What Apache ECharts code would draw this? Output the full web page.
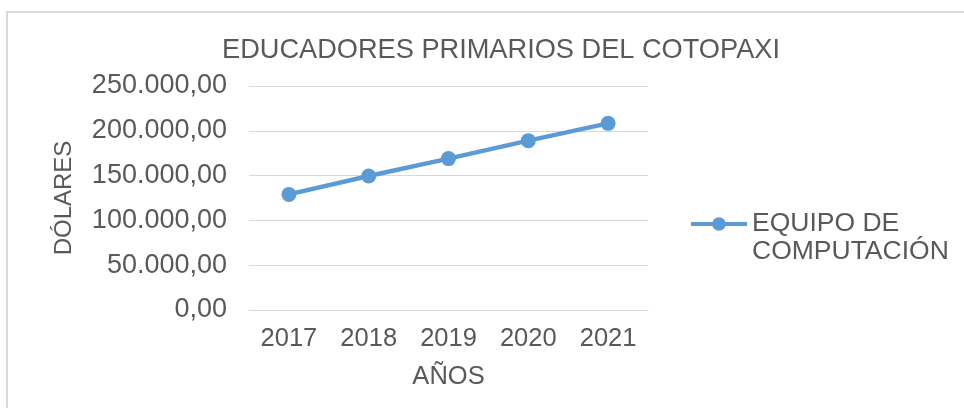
<!DOCTYPE html>
<html>
<head>
<meta charset="utf-8">
<script src="https://cdn.jsdelivr.net/npm/echarts@6/dist/echarts.min.js"></script>
<style>
  html, body { margin: 0; padding: 0; background: #fff; }
  #main { width: 964px; height: 408px; }
</style>
</head>
<body>
<div id="main"></div>
<script>
var years = ['2017', '2018', '2019', '2020', '2021']
var equipoComputacion = [129000, 149500, 169000, 189000, 208300]
var seriesName = 'EQUIPO DE COMPUTACIÓN'

function fmt(v) {
  var s = String(Math.round(v)).replace(/\B(?=(\d{3})+(?!\d))/g, '.')
  return s + ',00'
}

var font = '"Liberation Sans", Arial, sans-serif'
var grey = '#595959'

var myChart = echarts.init(document.getElementById('main'))
var option = {
  animation: false,
  textStyle: { fontFamily: font },
  graphic: [{
    type: 'rect',
    shape: { x: 7, y: 12, width: 1000, height: 500 },
    style: { fill: 'none', stroke: '#d9d9d9', lineWidth: 2 }
  }],
  title: {
    text: 'EDUCADORES PRIMARIOS DEL COTOPAXI',
    left: 217,
    top: 32,
    textStyle: { fontFamily: font, fontSize: 27.2, fontWeight: 'normal', color: grey }
  },
  legend: {
    left: 689,
    top: 182,
    padding: 0,
    itemWidth: 56,
    itemHeight: 17,
    lineStyle: { width: 4 },
    // blank first line so the marker sits beside the first text line
    formatter: function () { return ' \nEQUIPO DE\nCOMPUTACIÓN' },
    textStyle: { fontFamily: font, fontSize: 26.5, color: grey, lineHeight: 28 },
    data: [seriesName]
  },
  grid: { left: 249, right: 316, top: 86, bottom: 98 },
  xAxis: {
    type: 'category',
    data: years,
    name: 'AÑOS',
    nameLocation: 'middle',
    nameGap: 54,
    nameTextStyle: { fontFamily: font, fontSize: 25.5, color: grey },
    axisLine: { show: true, lineStyle: { color: '#d9d9d9' } },
    axisTick: { show: false },
    axisLabel: { fontFamily: font, fontSize: 25.5, color: grey, margin: 16 }
  },
  yAxis: {
    type: 'value',
    min: 0,
    max: 250000,
    interval: 50000,
    name: 'DÓLARES',
    nameLocation: 'middle',
    nameGap: 173,
    nameTextStyle: { fontFamily: font, fontSize: 24, color: grey },
    axisLine: { show: false },
    axisTick: { show: false },
    splitLine: { lineStyle: { color: '#d9d9d9' } },
    axisLabel: { fontFamily: font, fontSize: 27, color: grey, margin: 22, formatter: fmt }
  },
  series: [{
    name: seriesName,
    type: 'line',
    data: equipoComputacion,
    symbol: 'circle',
    symbolSize: 15,
    lineStyle: { width: 4.5, color: '#5b9bd5' },
    itemStyle: { color: '#5b9bd5' }
  }]
}
myChart.setOption(option)
</script>
</body>
</html>
